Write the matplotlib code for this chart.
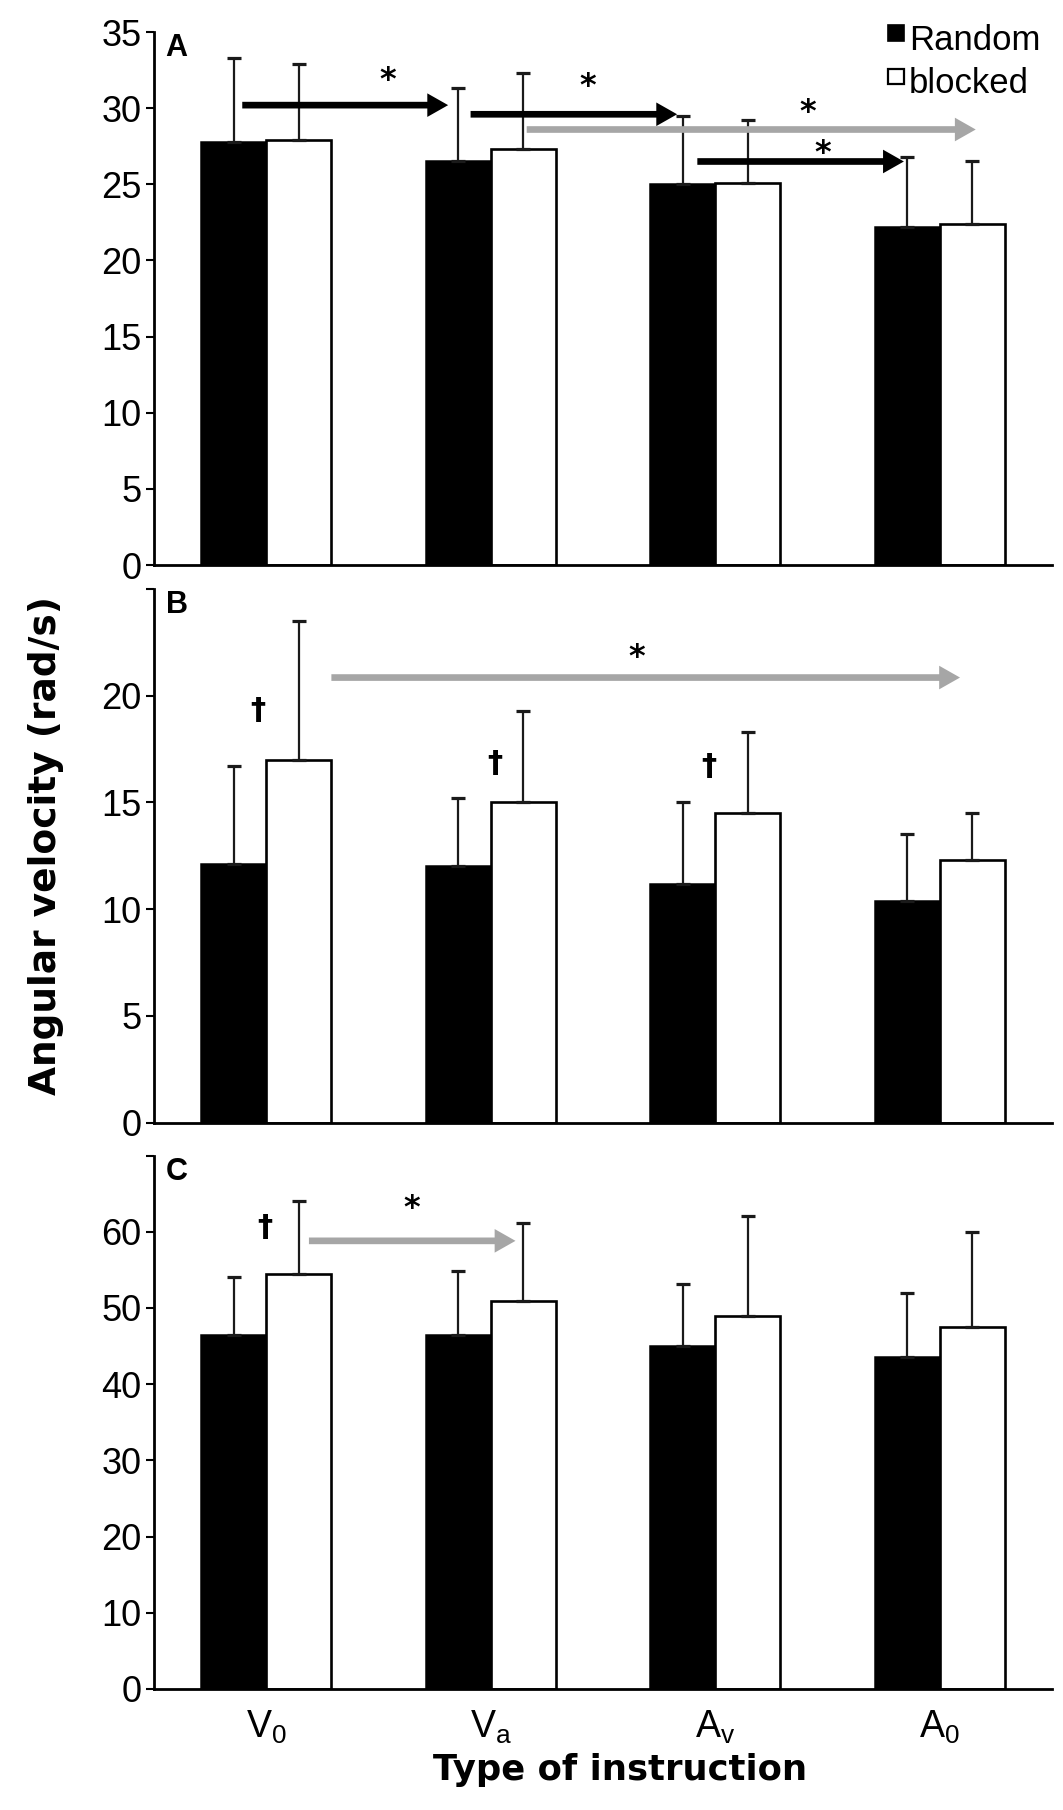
import matplotlib
matplotlib.use('Agg')
import matplotlib.pyplot as plt
from matplotlib import font_manager
from matplotlib.patches import Rectangle
from matplotlib.legend_handler import HandlerPatch
import numpy as np

# ---------------- data ----------------
categories = ['V0', 'Va', 'Av', 'A0']
tick_labels = [r'V$_\mathrm{0}$', r'V$_\mathrm{a}$', r'A$_\mathrm{v}$', r'A$_\mathrm{0}$']
series = ['Random', 'blocked']

A_random = [27.8, 26.5, 25.0, 22.2]
A_random_err = [5.5, 4.8, 4.5, 4.6]
A_blocked = [27.9, 27.3, 25.1, 22.4]
A_blocked_err = [5.0, 5.0, 4.1, 4.1]

B_random = [12.1, 12.0, 11.2, 10.4]
B_random_err = [4.6, 3.2, 3.8, 3.1]
B_blocked = [17.0, 15.0, 14.5, 12.3]
B_blocked_err = [6.5, 4.3, 3.8, 2.2]

C_random = [46.4, 46.4, 45.0, 43.6]
C_random_err = [7.7, 8.4, 8.1, 8.3]
C_blocked = [54.4, 50.9, 49.0, 47.5]
C_blocked_err = [9.6, 10.3, 13.0, 12.5]

# significance arrows: (x start, x end, y, colour)
A_arrows = [(-0.107, 0.81, 30.2, 'black'), (0.91, 1.83, 29.6, 'black'),
            (1.16, 3.16, 28.6, 'grey'), (1.92, 2.84, 26.5, 'black')]
A_stars = [(0.54, 32.3), (1.43, 31.9), (2.41, 30.2), (2.48, 27.5)]
A_daggers = []

B_arrows = [(0.29, 3.09, 20.85, 'grey')]
B_stars = [(1.65, 22.1)]
B_daggers = [(-0.037, 19.3), (1.02, 16.8), (1.97, 16.7)]

C_arrows = [(0.19, 1.11, 58.8, 'grey')]
C_stars = [(0.65, 64.0)]
C_daggers = [(-0.008, 60.5)]

A_yticks = [0, 5, 10, 15, 20, 25, 30, 35]
A_ylabels = ['0', '5', '10', '15', '20', '25', '30', '35']
B_yticks = [0, 5, 10, 15, 20, 25]
B_ylabels = ['0', '5', '10', '15', '20', '']
C_yticks = [0, 10, 20, 30, 40, 50, 60, 70]
C_ylabels = ['0', '10', '20', '30', '40', '50', '60', '']

# ---------------- style ----------------
names = {f.name for f in font_manager.fontManager.ttflist}
narrow = 'Liberation Sans Narrow' if 'Liberation Sans Narrow' in names else 'Liberation Sans'
plt.rcParams['font.family'] = ['Liberation Sans', 'DejaVu Sans']
plt.rcParams['mathtext.fontset'] = 'custom'
plt.rcParams['mathtext.rm'] = narrow
plt.rcParams['mathtext.it'] = narrow

GREY = '#a6a6a6'
colmap = {'black': 'black', 'grey': GREY}


class TopSquare(HandlerPatch):
    def create_artists(self, legend, orig_handle, xdescent, ydescent,
                       width, height, fontsize, trans):
        s = 0.45 * fontsize
        p = Rectangle((-xdescent + width - s, -ydescent + height - s), s, s)
        self.update_prop(p, orig_handle, legend)
        p.set_transform(trans)
        return [p]


fig = plt.figure(figsize=(10.63, 18.10), dpi=100)
left, width = 0.1449, 0.8448
axA = fig.add_axes([left, 0.6878, width, 0.2945])
axB = fig.add_axes([left, 0.3798, width, 0.2948])
axC = fig.add_axes([left, 0.0669, width, 0.2947])

panels = [
    (axA, A_random, A_random_err, A_blocked, A_blocked_err, 35, A_yticks, A_ylabels,
     A_arrows, A_stars, A_daggers, 'A'),
    (axB, B_random, B_random_err, B_blocked, B_blocked_err, 25, B_yticks, B_ylabels,
     B_arrows, B_stars, B_daggers, 'B'),
    (axC, C_random, C_random_err, C_blocked, C_blocked_err, 70, C_yticks, C_ylabels,
     C_arrows, C_stars, C_daggers, 'C'),
]

x = np.arange(len(categories))
w = 0.289
ekw = dict(ecolor='#1a1a1a', elinewidth=1.6, capsize=4.7, capthick=2.3)

for (ax, rnd, rnd_e, blk, blk_e, ymax, yt, yl, arrows, stars, daggers, letter) in panels:
    ax.bar(x - w / 2, rnd, w, color='black', edgecolor='black', linewidth=1.8,
           yerr=[np.zeros(len(rnd)), rnd_e], error_kw=ekw)
    ax.bar(x + w / 2, blk, w, color='white', edgecolor='black', linewidth=1.9,
           yerr=[np.zeros(len(blk)), blk_e], error_kw=ekw)
    ax.set_xlim(-0.5, 3.5)
    ax.set_ylim(0, ymax)
    ax.set_yticks(yt)
    ax.set_yticklabels(yl)
    ax.set_xticks(x)
    ax.set_xticklabels([])
    for s in ['top', 'right']:
        ax.spines[s].set_visible(False)
    for s in ['left', 'bottom']:
        ax.spines[s].set_linewidth(2.0)
    ax.tick_params(axis='y', length=6, width=1.5, pad=3, labelsize=26, direction='out')
    ax.tick_params(axis='x', length=0)

    for (x0, x1, yy, c) in arrows:
        ax.annotate('', xy=(x1, yy), xytext=(x0, yy),
                    arrowprops=dict(arrowstyle='simple,head_length=0.75,head_width=0.85,tail_width=0.24',
                                    mutation_scale=20, shrinkA=0, shrinkB=0,
                                    fc=colmap[c], ec='none', lw=0))
    for (sx, sy) in stars:
        ax.annotate('*', xy=(sx, sy), xytext=(0, -5), textcoords='offset points',
                    ha='center', va='center', fontsize=23, fontweight='bold',
                    family=['DejaVu Sans'])
    for (dx, dy) in daggers:
        ax.annotate('†', xy=(dx, dy), xytext=(0, 0), textcoords='offset points',
                    ha='center', va='center', fontsize=22, fontweight='bold',
                    family=['DejaVu Sans'])
    ax.text(0.013, 0.998, letter, transform=ax.transAxes, fontsize=22,
            fontweight='bold', ha='left', va='top')

axC.set_xticklabels(tick_labels, fontsize=27, family=[narrow, 'DejaVu Sans'])
axC.tick_params(axis='x', pad=14)

handles = [Rectangle((0, 0), 1, 1, facecolor='black', edgecolor='black', linewidth=1.2),
           Rectangle((0, 0), 1, 1, facecolor='white', edgecolor='black', linewidth=1.6)]
axA.legend(handles, series, handler_map={Rectangle: TopSquare()},
           loc='upper right', bbox_to_anchor=(0.987, 1.015), frameon=False,
           fontsize=25, handlelength=0.5, handleheight=0.75, handletextpad=0.15,
           labelspacing=0.3, borderpad=0, borderaxespad=0)

fig.text(0.0433, 0.5326, 'Angular velocity (rad/s)', rotation=90, ha='center',
         va='center', fontsize=27, fontweight='bold', family=['DejaVu Sans'])
fig.text(0.583, 0.01657, 'Type of instruction', ha='center', va='baseline',
         fontsize=25.5, fontweight='bold', family=['DejaVu Sans'])

fig.savefig('out.png', dpi=100)
